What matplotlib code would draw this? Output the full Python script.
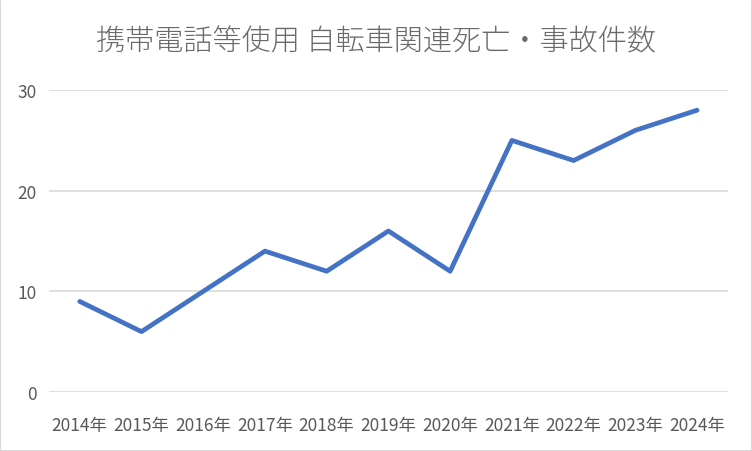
import matplotlib
matplotlib.use("Agg")
import matplotlib.pyplot as plt
from matplotlib.patches import Rectangle

plt.rcParams['font.family'] = ['Noto Sans CJK JP', 'DejaVu Sans']

years = ['2014年', '2015年', '2016年', '2017年', '2018年', '2019年',
         '2020年', '2021年', '2022年', '2023年', '2024年']
counts = [9, 6, 10, 14, 12, 16, 12, 25, 23, 26, 28]
title = '携帯電話等使用 自転車関連死亡・事故件数'

text_color = '#595959'
grid_color = '#D9D9D9'
line_color = '#4472C4'

fig = plt.figure(figsize=(7.52, 4.52), dpi=100)
fig.patches.append(Rectangle((0, 0), 1, 1, transform=fig.transFigure,
                             fill=False, edgecolor=grid_color, linewidth=1.5))
ax = fig.add_axes([0.065, 0.1305, 0.903, 0.668])

x = range(len(years))
ax.plot(x, counts, color=line_color, linewidth=3.4, solid_capstyle='round',
        solid_joinstyle='round', zorder=3)

ax.set_xlim(-0.5, len(years) - 0.5)
ax.set_ylim(0, 30)
ax.set_yticks([0, 10, 20, 30])
ax.set_xticks(list(x))
ax.set_xticklabels(years)
ax.grid(axis='y', color=grid_color, linewidth=1.2)
ax.set_axisbelow(True)
for s in ax.spines.values():
    s.set_visible(False)
ax.tick_params(axis='both', length=0, colors=text_color, labelsize=12.5)
ax.tick_params(axis='y', pad=9)
ax.tick_params(axis='x', pad=17)

fig.text(0.5, 0.907, title, ha='center', va='center', fontsize=21,
         color='#6a6a6a', fontweight='light')

fig.savefig('out.png', dpi=100)
